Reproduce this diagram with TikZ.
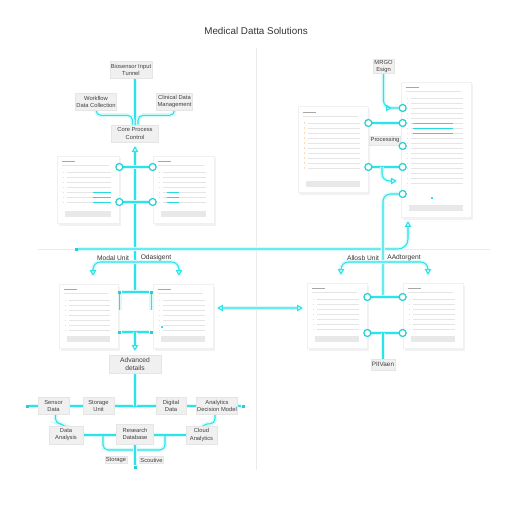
\documentclass[tikz,border=0pt]{standalone}
\usepackage{fontspec}
\setmainfont{Liberation Sans}
\usetikzlibrary{arrows.meta, backgrounds, shadows, decorations.markings}

\definecolor{glow}{HTML}{2BE4EA}

% card contents: name, rows, width (px)
\newcommand{\cardbody}[3]{%
  \draw[ink] ([shift={(5,6)}]#1.north west) -- ++(13,0);
  \draw[faint] ([shift={(5,10)}]#1.north west) -- ++({#3-15},0);
  \foreach \row in {1,...,#2}{
    \fill[orange!30] ([shift={(6,11+5*\row)}]#1.north west) rectangle ++(1.6,1.6);
    \draw[faint] ([shift={(10,12+5*\row)}]#1.north west) -- ++({#3-18},0);
  }
  \fill[black!9] ([shift={(8,-12)}]#1.south west) rectangle ([shift={(-8,-6)}]#1.south east);
}

\begin{document}
\begin{tikzpicture}[x=0.2mm, y=-0.2mm,
    box/.style={draw=black!10, fill=black!6, align=center, font=\fontsize{3.3}{4}\selectfont, text=black!75, inner sep=0.5pt},
    card/.style={draw=black!6, fill=white, inner sep=0pt, drop shadow={opacity=0.1, shadow xshift=0.3mm, shadow yshift=-0.5mm}},
    wire/.style={draw=glow, line width=0.6pt, preaction={draw=glow!18, line width=2.4pt, arrows=-}},
    tip/.style={-{Triangle[open, length=1.1mm, width=1.3mm]}, shorten >=0.8mm},
    midtip/.style={postaction={decorate, decoration={markings, mark=at position 0.85 with {\arrow{Triangle[open, length=1.1mm, width=1.3mm]}}}}},
    dot/.style={circle, draw=glow!80!teal, fill=white, line width=0.7pt, minimum size=1.4mm, inner sep=0pt},
    pin/.style={rectangle, fill=glow!80!teal, minimum size=0.6mm, inner sep=0pt},
    lbl/.style={font=\fontsize{3.8}{4.5}\selectfont, text=black!80},
    faint/.style={black!10, line width=0.35pt},
    ink/.style={black!35, line width=0.5pt},
    hl/.style={glow!90!teal, line width=0.6pt}]

  \useasboundingbox (0,0) rectangle (512,512);

  \node[font=\fontsize{5.6}{6.5}\selectfont, text=black!80] (title) at (256,31) {Medical Datta Solutions};

  % top left
  \node[box, minimum width=8.2mm, minimum height=3.4mm] (tunnel) at (131,69.5) {Biosensor Input\\Tunnel};
  \node[box, minimum width=6.8mm, minimum height=3.4mm] (wflow) at (96,101.5) {Workflow\\Data Collection};
  \node[box, minimum width=7mm, minimum height=3.4mm] (cdm) at (174.5,101.5) {Clinical Data\\Management};
  \node[box, minimum width=9.4mm, minimum height=3.4mm] (core) at (135,133.5) {Core Process\\Control};
  \node[card, minimum width=12.4mm, minimum height=13.4mm] (cardA) at (88,189.5) {};
  \node[card, minimum width=12.2mm, minimum height=13.4mm] (cardB) at (183.5,189.5) {};

  % top right
  \node[box, minimum width=4.2mm, minimum height=2.6mm] (mrgo) at (383.5,66.5) {MRGO\\Esign};
  \node[card, minimum width=14mm, minimum height=17.2mm] (cardC) at (333,149.5) {};
  \node[card, minimum width=14mm, minimum height=27mm] (cardD) at (436,149.5) {};
  \node[box, minimum width=5.2mm, minimum height=1.8mm] (proc) at (385,140.5) {Processing};

  % lower
  \node[card, minimum width=11.8mm, minimum height=12.8mm] (cardE) at (88.5,316) {};
  \node[card, minimum width=12mm, minimum height=12.8mm] (cardF) at (183,316) {};
  \node[card, minimum width=12mm, minimum height=13mm] (cardG) at (337,315.5) {};
  \node[card, minimum width=12mm, minimum height=13mm] (cardH) at (433,315.5) {};
  \node[box, minimum width=10.4mm, minimum height=3.6mm, font=\fontsize{3.8}{4.6}\selectfont] (adv) at (135,364) {Advanced\\details};
  \node[box, minimum width=4.6mm, minimum height=2.2mm, font=\fontsize{3.6}{4.3}\selectfont] (piiv) at (383,364.5) {PIIVaen};

  \node[lbl] (modal) at (113,258) {Modal Unit};
  \node[lbl] (odas) at (156,258) {Odasigent};
  \node[lbl] (allosb) at (363,258) {Allosb Unit};
  \node[lbl] (adtor) at (404,258) {AAdtorgent};

  % bottom
  \node[box, minimum width=6.2mm, minimum height=3.4mm] (s1) at (53.5,406) {Sensor\\Data};
  \node[box, minimum width=6.2mm, minimum height=3.4mm] (s2) at (98.5,406) {Storage\\Unit};
  \node[box, minimum width=6mm, minimum height=3.4mm] (s3) at (171,406) {Digital\\Data};
  \node[box, minimum width=6.4mm, minimum height=3.4mm] (s4) at (217,406) {Analytics\\Decision Model};
  \node[box, minimum width=6.8mm, minimum height=3.6mm] (s5) at (66,435) {Data\\Analysis};
  \node[box, minimum width=7.4mm, minimum height=4mm] (s6) at (135,434) {Research\\Database};
  \node[box, minimum width=6.2mm, minimum height=3.6mm] (s7) at (201.5,435) {Cloud\\Analytics};
  \node[box, minimum width=3.6mm, minimum height=1.4mm] (t1) at (116,460) {Storage};
  \node[box, minimum width=3.8mm, minimum height=1.4mm] (t2) at (151.5,460) {Scoutive};

  % card contents
  \cardbody{cardA}{7}{62}
  \cardbody{cardB}{7}{61}
  \cardbody{cardC}{10}{70}
  \cardbody{cardD}{18}{70}
  \cardbody{cardE}{7}{59}
  \cardbody{cardF}{7}{60}
  \cardbody{cardG}{7}{60}
  \cardbody{cardH}{7}{60}
  \foreach \row in {5,6,7}{
    \draw[hl] ([shift={(36,12+5*\row)}]cardA.north west) -- ++(18,0);
    \draw[hl] ([shift={(14,12+5*\row)}]cardB.north west) -- ++(12,0);
  }
  \foreach \row in {6,7,8}{
    \draw[hl] ([shift={(12,12+5*\row)}]cardD.north west) -- ++(40,0);
  }
  \fill[glow] ([shift={(8,-22)}]cardF.south west) rectangle ++(2,2);
  \fill[glow] ([shift={(30,-20)}]cardD.south west) rectangle ++(2,2);

  % ports
  \node[dot] (a1) at ([yshift=4.5mm]cardA.east) {};
  \node[dot] (a2) at ([yshift=-2.5mm]cardA.east) {};
  \node[dot] (b1) at ([yshift=4.5mm]cardB.west) {};
  \node[dot] (b2) at ([yshift=-2.5mm]cardB.west) {};
  \node[dot] (c1) at ([yshift=5.3mm]cardC.east) {};
  \node[dot] (c2) at ([yshift=-3.5mm]cardC.east) {};
  \node[dot] (d1) at ([xshift=0.4mm, yshift=8.3mm]cardD.west) {};
  \node[dot] (d2) at ([xshift=0.4mm, yshift=5.3mm]cardD.west) {};
  \node[dot] (d3) at ([xshift=0.4mm, yshift=0.7mm]cardD.west) {};
  \node[dot] (d4) at ([xshift=0.4mm, yshift=-3.5mm]cardD.west) {};
  \node[dot] (d5) at ([xshift=0.4mm, yshift=-8.9mm]cardD.west) {};
  \node[pin] (e1) at ([xshift=0.3mm, yshift=4.8mm]cardE.east) {};
  \node[pin] (e2) at ([xshift=0.3mm, yshift=-3.2mm]cardE.east) {};
  \node[pin] (f1) at ([xshift=-0.3mm, yshift=4.8mm]cardF.west) {};
  \node[pin] (f2) at ([xshift=-0.3mm, yshift=-3.2mm]cardF.west) {};
  \node[dot] (g1) at ([yshift=3.7mm]cardG.east) {};
  \node[dot] (g2) at ([yshift=-3.5mm]cardG.east) {};
  \node[dot] (h1) at ([yshift=3.7mm]cardH.west) {};
  \node[dot] (h2) at ([yshift=-3.5mm]cardH.west) {};
  \node[pin] (busW) at (76,249) {};
  \node[pin] (bw) at (27,406) {};
  \node[pin] (be) at (243,406) {};
  \node[pin] (bd) at (135,467) {};

  \coordinate (jB) at (135,262);
  \coordinate (jT) at (135,292);
  \coordinate (jH) at (135,332);
  \coordinate (jC) at (382,167);
  \coordinate (jG) at (383,297);
  \coordinate (jR) at (383,262);
  \coordinate (jP) at (383,333);
  \coordinate (kL) at (103,436);
  \coordinate (kR) at (165,436);
  \coordinate (kC) at (135,450);

  \begin{scope}[on background layer]
    \draw[black!8, line width=0.4pt] (256,48) -- (256,470);
    \draw[black!8, line width=0.4pt] (38,249) -- (490,249);

    % top left
    \draw[wire] (tunnel.south -| core) -- (core);
    \draw[wire, rounded corners=1mm] (wflow.south) -- ++(0,5) -| ([xshift=-0.5mm]core.north);
    \draw[wire, rounded corners=1mm] (cdm.south) -- ++(0,5) -| ([xshift=0.6mm]core.north);
    \draw[wire, tip] (jT) -- (core);
    \draw[wire] (a1) -- (b1);
    \draw[wire] (a2) -- (b2);
    \draw[wire, rounded corners=2mm, tip] (busW) -| ([xshift=-5.6mm]cardD.south);

    % top right
    \draw[wire, rounded corners=1.5mm, midtip] (mrgo) |- (d1);
    \draw[wire] (c1) -- (d2);
    \draw[wire] (c2) -- (d4);
    \draw[wire, rounded corners=1.5mm, tip] (jC) |- ([yshift=-6.3mm]cardD.west);
    \draw[wire, rounded corners=1.5mm] (d5) -| (jG);

    % lower left
    \draw[wire, rounded corners=1.5mm, tip, shorten >=1.6mm] (jB) -| ([xshift=0.9mm]cardE.north);
    \draw[wire, rounded corners=1.5mm, tip, shorten >=1.6mm] (jB) -| ([xshift=-0.8mm]cardF.north);
    \draw[wire] ([xshift=0.3mm, yshift=1.2mm]cardE.east) -- (e1) -- (f1) -- ([xshift=-0.3mm, yshift=1.2mm]cardF.west);
    \draw[wire] (e2) -- (f2);
    \draw[wire, tip] (jH) -- (adv);
    \draw[wire, {Triangle[open, length=1.1mm, width=1.3mm]}-{Triangle[open, length=1.1mm, width=1.3mm]}, shorten <=0.8mm, shorten >=0.8mm]
      ([yshift=1.6mm]cardF.east) -- ([yshift=1.5mm]cardG.west);

    % lower right
    \draw[wire, rounded corners=1.5mm, tip, shorten >=1.6mm] (jR) -| ([xshift=0.8mm]cardG.north);
    \draw[wire, rounded corners=1.5mm, tip, shorten >=1.6mm] (jR) -| ([xshift=-1mm]cardH.north);
    \draw[wire] (g1) -- (h1);
    \draw[wire] (g2) -- (h2);
    \draw[wire] (jP) -- (piiv);

    % bottom
    \draw[wire] (bw) -- (be);
    \draw[wire] (adv) -- (adv |- bw);
    \draw[wire, rounded corners=1mm] ([xshift=0.4mm]s1.south) -- ++(0,9) -| ([xshift=-0.2mm]s5.north);
    \draw[wire, rounded corners=1mm] ([xshift=-0.4mm]s4.south) -- ++(0,9) -| ([xshift=0.2mm]s7.north);
    \draw[wire] (s5) -- (s7);
    \draw[wire, rounded corners=1mm] (kL) |- (kC) -| (kR);
    \draw[wire] (s6) -- (bd);
  \end{scope}
\end{tikzpicture}
\end{document}
